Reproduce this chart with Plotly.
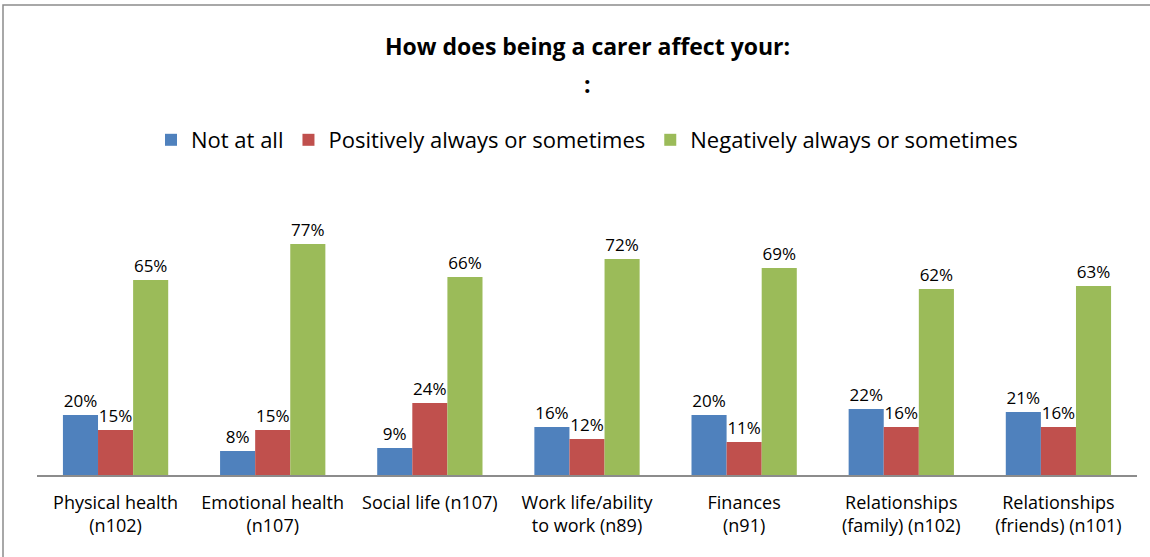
import plotly.graph_objects as go

categories = [
    "Physical health<br>(n102)",
    "Emotional health<br>(n107)",
    "Social life (n107)",
    "Work life/ability<br>to work (n89)",
    "Finances<br>(n91)",
    "Relationships<br>(family) (n102)",
    "Relationships<br>(friends) (n101)",
]
not_at_all = [20, 8, 9, 16, 20, 22, 21]
positively = [15, 15, 24, 12, 11, 16, 16]
negatively = [65, 77, 66, 72, 69, 62, 63]

series = [
    ("Not at all", not_at_all, "#4F81BD"),
    ("Positively always or sometimes", positively, "#C0504D"),
    ("Negatively always or sometimes", negatively, "#9BBB59"),
]

FONT = "Open Sans"
W, H = 1150, 557
L, R, T, B = 37, 13, 205, 82
PH = H - T - B
PW = W - L - R

fig = go.Figure()
for name, vals, color in series:
    fig.add_trace(go.Bar(
        x=categories, y=vals, name=name,
        marker=dict(color=color, line=dict(width=0)),
        text=[f"{v}%" for v in vals],
        textposition="outside",
        textfont=dict(family=FONT, size=17, color="#000000"),
        cliponaxis=False,
    ))

def px_x(x):
    return (x - L) / PW

def px_y(y):
    return (H - B - y) / PH

fig.update_layout(
    width=W, height=H,
    margin=dict(l=L, r=R, t=T, b=B),
    paper_bgcolor="white", plot_bgcolor="white",
    barmode="group", bargap=0.33, bargroupgap=0,
    font=dict(family=FONT, color="#000000"),
    showlegend=True,
    legend=dict(
        orientation="h", x=0.5, xanchor="center",
        yref="container", y=1 - 140 / H, yanchor="middle",
        font=dict(family=FONT, size=22, color="#000000"),
        itemwidth=30, traceorder="normal",
    ),
    xaxis=dict(
        showgrid=False, showline=True, linecolor="#8C8C8C", linewidth=2,
        ticks="", ticklabelstandoff=10,
        tickfont=dict(family=FONT, size=18, color="#000000"),
    ),
    yaxis=dict(range=[0, 90], visible=False, showgrid=False),
    annotations=[
        dict(text="<b>How does being a carer affect your:</b>", xref="paper", yref="paper",
             x=0.5, y=px_y(46), xanchor="center", yanchor="middle", showarrow=False,
             font=dict(family=FONT, size=23, color="#000000")),
        dict(text="<b>:</b>", xref="paper", yref="paper",
             x=0.5, y=px_y(84), xanchor="center", yanchor="middle", showarrow=False,
             font=dict(family=FONT, size=23, color="#000000")),
    ],
    shapes=[
        dict(type="rect", xref="paper", yref="paper",
             x0=px_x(3), x1=px_x(1155), y0=px_y(565), y1=px_y(5),
             line=dict(color="#8C8C8C", width=1.5), fillcolor="rgba(0,0,0,0)", layer="below"),
    ],
)

fig.write_html("out.html")
